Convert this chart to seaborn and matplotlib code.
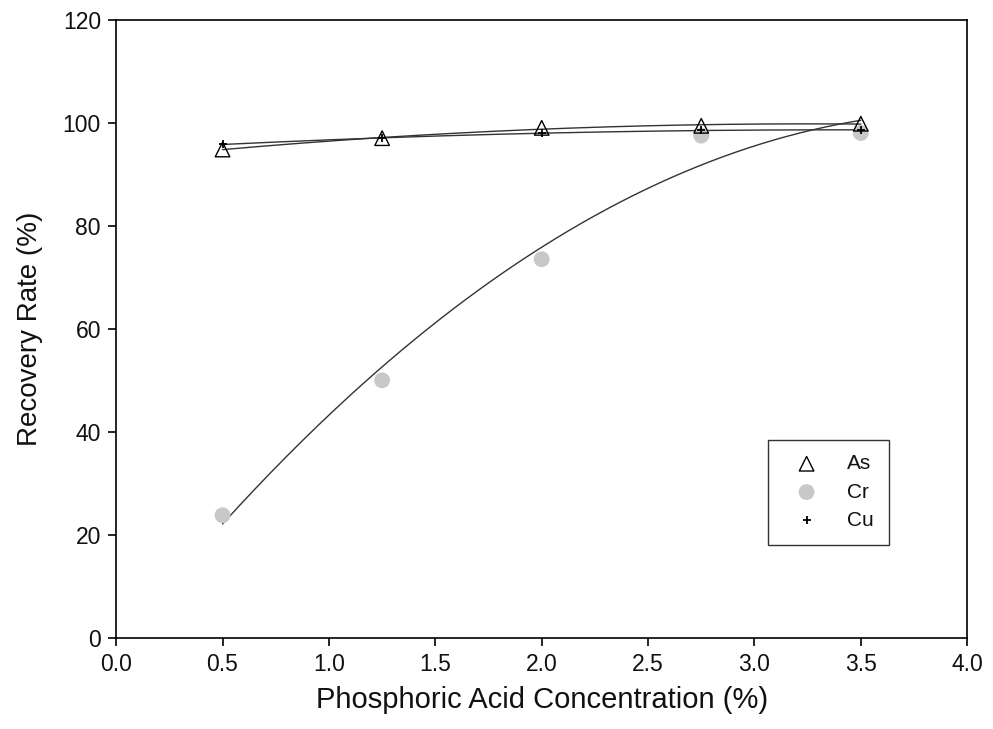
import numpy as np
import pandas as pd
import matplotlib
matplotlib.use("Agg")
import matplotlib.pyplot as plt
import seaborn as sns

# data
concentration = [0.5, 1.25, 2.0, 2.75, 3.5]
as_rate = [94.8, 97.0, 99.0, 99.4, 99.8]
cr_rate = [23.8, 50.0, 73.5, 97.5, 98.0]
cu_rate = [95.8, 97.0, 98.0, 98.5, 98.6]

sns.set_style("white")
plt.rcParams['font.family'] = ['Liberation Sans', 'DejaVu Sans']

fig = plt.figure(figsize=(9.93, 7.29), dpi=100)
ax = fig.add_axes([0.117, 0.125, 0.857, 0.848])

df = pd.DataFrame({'x': concentration, 'As': as_rate, 'Cr': cr_rate, 'Cu': cu_rate})

# quadratic regression curves for each metal
xs = np.linspace(0.5, 3.5, 200)
for col in ['As', 'Cr', 'Cu']:
    coef = np.polyfit(df['x'], df[col], 2)
    sns.lineplot(x=xs, y=np.polyval(coef, xs), ax=ax, color='#333333', linewidth=1.0)

sns.scatterplot(data=df, x='x', y='Cr', ax=ax, s=130, color='#c8c8c8', edgecolor='none',
                label='Cr', zorder=3)
sns.scatterplot(data=df, x='x', y='As', ax=ax, marker='^', s=110, facecolor='none',
                edgecolor='black', linewidth=1.0, label='As', zorder=4)
sns.scatterplot(data=df, x='x', y='Cu', ax=ax, marker='+', s=30, color='black',
                linewidth=1.3, label='Cu', zorder=5)

ax.set_xlim(0, 4)
ax.set_ylim(0, 120)
ax.set_xticks(np.arange(0, 4.01, 0.5))
ax.set_xticklabels([f"{v:.1f}" for v in np.arange(0, 4.01, 0.5)])
ax.set_yticks(range(0, 121, 20))
ax.tick_params(axis='both', direction='out', length=6, width=1.2, labelsize=16.5,
               bottom=True, left=True, color='black', labelcolor='#111111', pad=5)
for sp in ax.spines.values():
    sp.set_color('black')
    sp.set_linewidth(1.2)

ax.set_xlabel("Phosphoric Acid Concentration (%)", fontsize=21, labelpad=7, color='#111111')
ax.set_ylabel("Recovery Rate (%)", fontsize=20, labelpad=14, color='#111111')

handles, labels = ax.get_legend_handles_labels()
order = [labels.index(k) for k in ['As', 'Cr', 'Cu']]
leg = ax.legend([handles[i] for i in order], ['As', 'Cr', 'Cu'],
                loc='lower left', bbox_to_anchor=(0.766, 0.151), fontsize=15,
                frameon=True, fancybox=False, edgecolor='black', borderpad=0.7,
                handlelength=2.3, handletextpad=0.8, labelspacing=0.45, borderaxespad=0)
leg.get_frame().set_linewidth(1.0)
for t in leg.get_texts():
    t.set_color('#111111')

fig.savefig("out.png", dpi=100)
